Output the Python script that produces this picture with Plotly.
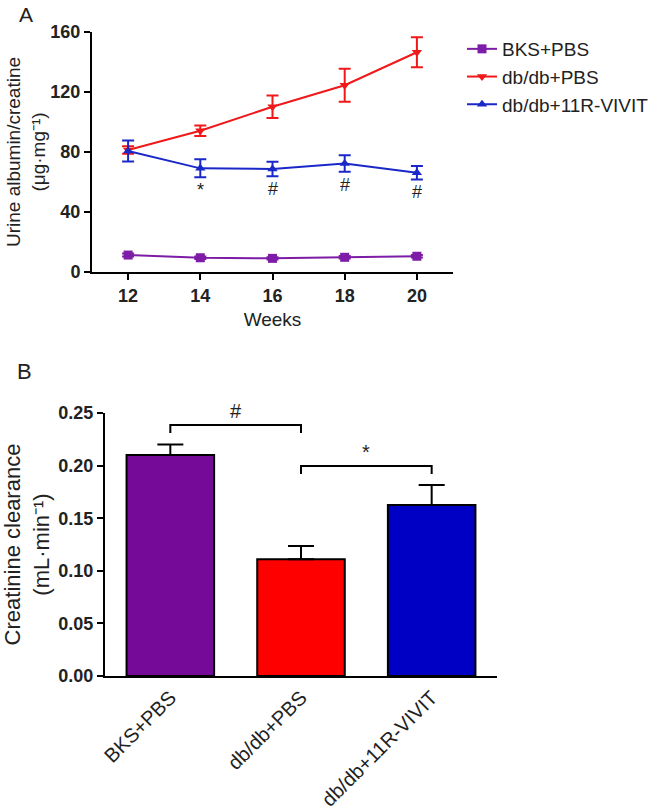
import plotly.graph_objects as go

# Panel A: urine albumin/creatinine over time
weeks = [12, 14, 16, 18, 20]
bks_pbs = [11.3, 9.5, 9.1, 9.8, 10.5]
bks_pbs_err = [1.0, 0.8, 0.8, 0.8, 0.8]
db_pbs = [81.3, 94.2, 110.2, 124.5, 146.5]
db_pbs_err = [2.5, 3.5, 7.5, 11.0, 10.0]
db_vivit = [80.7, 69.1, 68.7, 72.4, 66.2]
db_vivit_err = [7.0, 6.0, 4.8, 5.5, 4.5]
sig_weeks = [14, 16, 18, 20]
sig_marks = ["*", "#", "#", "#"]

# Panel B: creatinine clearance
groups = ["BKS+PBS", "db/db+PBS", "db/db+11R-VIVIT"]
clearance = [0.210, 0.111, 0.1625]
clearance_err = [0.010, 0.0125, 0.019]

FONT = "Liberation Sans, Arial, sans-serif"
PURPLE_LINE = "#7D1CA6"
RED_LINE = "#F01818"
BLUE_LINE = "#1A28C8"
BAR_COLORS = ["#750A98", "#FF0000", "#0000C4"]

W, H = 670, 812


def px(v):
    # pixel x -> paper fraction
    return v / W


def py(v):
    # pixel y (from top) -> paper fraction
    return 1 - v / H


fig = go.Figure()

series = [
    ("BKS+PBS", bks_pbs, bks_pbs_err, PURPLE_LINE, "square"),
    ("db/db+PBS", db_pbs, db_pbs_err, RED_LINE, "triangle-down"),
    ("db/db+11R-VIVIT", db_vivit, db_vivit_err, BLUE_LINE, "triangle-up"),
]
for name, vals, err, color, symbol in series:
    fig.add_trace(go.Scatter(
        x=weeks, y=vals, name=name, mode="lines+markers",
        line=dict(color=color, width=2),
        marker=dict(color=color, symbol=symbol, size=9),
        error_y=dict(type="data", array=err, color=color, thickness=2, width=6),
        xaxis="x", yaxis="y",
    ))

# significance marks under the VIVIT points
for wk, mark in zip(sig_weeks, sig_marks):
    i = weeks.index(wk)
    fig.add_annotation(
        x=wk, y=db_vivit[i] - db_vivit_err[i], xref="x", yref="y",
        text=mark, showarrow=False, yanchor="top", yshift=-1,
        font=dict(size=18, color="#222222", family=FONT),
    )

# bar chart
fig.add_trace(go.Bar(
    x=list(range(len(groups))), y=clearance, width=0.67,
    marker=dict(color=BAR_COLORS, line=dict(color="black", width=2)),
    error_y=dict(type="data", array=clearance_err, arrayminus=[0] * len(groups),
                 symmetric=False, color="black", thickness=2, width=13),
    showlegend=False, xaxis="x2", yaxis="y2",
))

# comparison brackets
brackets = [(0, 1, 0.2386, "#"), (1, 2, 0.1996, "*")]
for a, b, top, mark in brackets:
    fig.add_trace(go.Scatter(
        x=[a, a, b, b], y=[top - 0.0075, top, top, top - 0.0075],
        mode="lines", line=dict(color="black", width=2),
        showlegend=False, hoverinfo="skip", xaxis="x2", yaxis="y2",
    ))
    fig.add_annotation(
        x=(a + b) / 2, y=top, xref="x2", yref="y2", text=mark,
        showarrow=False, yanchor="bottom", yshift=1,
        font=dict(size=20, color="#222222", family=FONT),
    )

fig.add_annotation(x=px(26), y=py(14), xref="paper", yref="paper",
                   xanchor="center", yanchor="middle",
                   text="A", showarrow=False, font=dict(size=21, family=FONT, color="#222"))
fig.add_annotation(x=px(25), y=py(371), xref="paper", yref="paper",
                   xanchor="center", yanchor="middle",
                   text="B", showarrow=False, font=dict(size=22, family=FONT, color="#222"))

axis_common = dict(showline=True, linecolor="black", linewidth=2, showgrid=False,
                   zeroline=False, ticks="outside", tickcolor="black", tickwidth=2,
                   ticklen=6, automargin=False)

fig.update_layout(
    width=W, height=H,
    margin=dict(l=0, r=0, t=0, b=0),
    paper_bgcolor="white", plot_bgcolor="white",
    font=dict(family=FONT, color="#222222"),
    xaxis=dict(
        **axis_common, domain=[px(92), px(453)], range=[11, 21],
        tickvals=weeks, anchor="y",
        tickfont=dict(size=18, weight="bold"),
        title=dict(text="Weeks", font=dict(size=19), standoff=8),
    ),
    yaxis=dict(
        **axis_common, domain=[py(272), py(32)], range=[0, 160],
        tickvals=[0, 40, 80, 120, 160], anchor="x",
        tickfont=dict(size=18, weight="bold"),
        title=dict(text="Urine albumin/creatine<br>(μg·mg⁻¹)", font=dict(size=19),
                   standoff=0),
    ),
    xaxis2=dict(
        showline=True, linecolor="black", linewidth=2, showgrid=False, zeroline=False,
        automargin=False,
        domain=[px(105), px(497)], range=[-0.5, 2.5], anchor="y2",
        tickvals=list(range(len(groups))), ticktext=groups, tickangle=-45,
        ticks="", tickfont=dict(size=20),
    ),
    yaxis2=dict(
        **axis_common, domain=[py(676), py(413)], range=[0, 0.25],
        tickvals=[0, 0.05, 0.10, 0.15, 0.20, 0.25], tickformat=".2f", anchor="x2",
        tickfont=dict(size=18, weight="bold"),
        title=dict(text="Creatinine clearance<br>(mL·min⁻¹)", font=dict(size=22),
                   standoff=12),
    ),
    legend=dict(
        x=px(462), y=py(30), xanchor="left", yanchor="top",
        font=dict(size=19), bgcolor="rgba(0,0,0,0)", tracegroupgap=0,
    ),
)

# drop the default page margin so the figure sits at the window's corner
fig.write_html("out.html", config={"displayModeBar": False},
               post_script="document.body.style.margin='0';")
